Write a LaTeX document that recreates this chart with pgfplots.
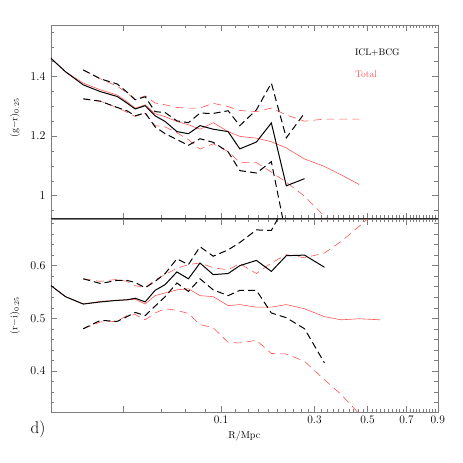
\documentclass[border=0pt]{standalone}
\usepackage{pgfplots}
\usepackage{pgfplotstable}
\pgfplotsset{compat=1.18}

\definecolor{totred}{RGB}{255,85,85}
\definecolor{framegray}{RGB}{125,125,125}

% columns: R [Mpc], ICL+BCG median, upper, lower, Total median, upper, lower
\pgfplotstableread{
R      icl    iclhi  icllo  tot    tothi  totlo
0.0033 1.461  nan    nan    1.461  nan    nan
0.0051 1.416  nan    nan    1.416  nan    nan
0.0082 1.372  1.422  1.325  1.378  1.422  1.325
0.0124 1.349  1.392  1.317  1.355  1.392  1.317
0.0178 1.333  1.375  1.296  1.338  1.368  1.296
0.0217 1.311  1.348  1.285  1.316  1.345  1.280
0.0255 1.291  1.322  1.268  1.294  1.322  1.266
0.0307 1.302  1.332  1.278  1.305  1.335  1.276
0.0366 1.268  1.282  1.231  1.275  1.311  1.235
0.0434 1.249  1.279  1.208  1.265  1.305  1.231
0.0525 1.215  1.251  1.188  1.249  1.296  1.211
0.0628 1.208  1.245  1.169  1.238  1.294  1.188
0.0746 1.235  1.277  1.191  1.223  1.294  1.156
0.0900 1.223  1.276  1.179  1.245  1.310  1.174
0.1101 1.215  1.285  1.147  1.215  1.299  1.148
0.1281 1.157  1.235  1.084  1.199  1.286  1.111
0.1573 1.180  1.288  1.076  1.193  1.282  1.111
0.1876 1.244  1.378  1.114  1.181  1.294  1.079
0.2221 1.033  1.194  0.863  1.160  1.271  1.045
0.2704 1.057  1.277  nan    1.123  1.250  0.998
0.3317 nan    nan    nan    1.098  1.257  0.931
0.3905 nan    nan    nan    1.070  1.257  0.880
0.4635 nan    nan    nan    1.037  1.257  0.830
}\grdata

\pgfplotstableread{
R      icl    iclhi  icllo  tot    tothi  totlo
0.0033 0.562  nan    nan    0.562  nan    nan
0.0051 0.541  nan    nan    0.541  nan    nan
0.0082 0.527  0.575  0.480  0.527  0.575  0.480
0.0124 0.531  0.566  0.496  0.532  0.570  0.493
0.0178 0.534  0.572  0.494  0.534  0.574  0.494
0.0217 0.535  0.572  0.503  0.535  0.570  0.505
0.0255 0.538  0.568  0.511  0.536  0.562  0.507
0.0307 0.531  0.558  0.505  0.527  0.558  0.497
0.0366 0.553  0.570  0.523  0.543  0.573  0.510
0.0434 0.564  0.585  0.541  0.548  0.583  0.518
0.0525 0.588  0.613  0.567  0.554  0.595  0.515
0.0628 0.575  0.602  0.551  0.556  0.602  0.509
0.0746 0.605  0.636  0.575  0.543  0.605  0.488
0.0900 0.583  0.618  0.554  0.541  0.596  0.482
0.1101 0.585  0.630  0.543  0.524  0.592  0.454
0.1281 0.600  0.644  0.553  0.526  0.604  0.453
0.1573 0.610  0.668  0.553  0.521  0.585  0.458
0.1876 0.589  0.667  0.510  0.521  0.605  0.433
0.2221 0.619  0.719  0.501  0.526  0.621  0.432
0.2704 0.620  nan    0.480  0.518  0.615  0.418
0.3317 0.597  nan    0.415  0.503  0.624  0.383
0.3905 nan    nan    nan    0.497  0.646  0.355
0.4635 nan    nan    nan    0.499  0.675  0.318
0.5590 nan    nan    nan    0.497  0.710  0.280
}\ridata

\pgfplotsset{
  panel/.style={
    scale only axis, width=387pt, height=194pt,
    xmin=0.0033, xmax=0.9,
    x coord trafo/.code={\pgfmathparse{(##1)^0.25}},
    x coord inv trafo/.code={\pgfmathparse{(##1)^4}},
    xtick={0.02,0.1,0.3,0.5,0.7,0.9},
    minor xtick={0.04,0.06,0.08,0.12,0.14,0.16,0.18,0.2,0.22,0.24,0.26,0.28,
      0.32,0.34,0.36,0.38,0.4,0.42,0.44,0.46,0.48,0.52,0.54,0.56,0.58,0.6,
      0.62,0.64,0.66,0.68,0.72,0.74,0.76,0.78,0.8,0.82,0.84,0.86,0.88},
    axis line style={framegray},
    every tick/.style={framegray},
    major tick length=6pt, minor tick length=3.5pt,
    tick label style={font=\fontsize{11.5}{13}\selectfont},
    yticklabel style={xshift=-2pt},
    label style={font=\fontsize{10}{12}\selectfont},
    unbounded coords=discard,
  },
  icl/.style={black, line width=1pt},
  icldash/.style={black, line width=1pt, dash pattern=on 7pt off 4pt},
  tot/.style={totred, line width=0.6pt},
  totdash/.style={totred, line width=0.6pt, dash pattern=on 8pt off 5pt},
}

\begin{document}
\begin{tikzpicture}
\useasboundingbox (-51pt,-244.3pt) rectangle (412pt,219pt);

\begin{axis}[panel, name=top, at={(0,0)}, anchor=south west,
    ymin=0.922, ymax=1.573,
    ytick={1,1.2,1.4},
    minor ytick={0.95,1.05,1.1,1.15,1.25,1.3,1.35,1.45,1.5,1.55},
    xticklabels={},
    ylabel={(g$-$r)$_{0.25}$},
    ylabel style={at={(axis description cs:-0.093,0.52)}, anchor=center},
]
\addplot[tot]     table[x=R, y=tot]   {\grdata};
\addplot[totdash] table[x=R, y=tothi] {\grdata};
\addplot[totdash] table[x=R, y=totlo] {\grdata};
\addplot[icl]     table[x=R, y=icl]   {\grdata};
\addplot[icldash] table[x=R, y=iclhi] {\grdata};
\addplot[icldash] table[x=R, y=icllo] {\grdata};
\node[anchor=west, font=\fontsize{9.5}{11}\selectfont] at (axis description cs:0.777,0.856) {ICL+BCG};
\node[anchor=west, text=totred, font=\fontsize{9.5}{11}\selectfont] at (axis description cs:0.777,0.748) {Total};
\end{axis}

\begin{axis}[panel, name=bot, at={(top.south west)}, anchor=north west,
    height=193.4pt,
    ymin=0.3214, ymax=0.689,
    ytick={0.4,0.5,0.6},
    minor ytick={0.34,0.36,0.38,0.42,0.44,0.46,0.48,0.52,0.54,0.56,0.58,0.62,0.64,0.66,0.68},
    xticklabels={,0.1,0.3,0.5,0.7,0.9},
    xlabel={R/Mpc},
    xlabel style={at={(axis description cs:0.5,-0.124)}, anchor=center},
    ylabel={(r$-$i)$_{0.25}$},
    ylabel style={at={(axis description cs:-0.093,0.5)}, anchor=center},
]
\addplot[tot]     table[x=R, y=tot]   {\ridata};
\addplot[totdash] table[x=R, y=tothi] {\ridata};
\addplot[totdash] table[x=R, y=totlo] {\ridata};
\addplot[icl]     table[x=R, y=icl]   {\ridata};
\addplot[icldash] table[x=R, y=iclhi] {\ridata};
\addplot[icldash] table[x=R, y=icllo] {\ridata};
\end{axis}

\draw[black!85, line width=0.8pt] (top.south west) -- (top.south east);
\node[font=\fontsize{17}{19}\selectfont] at ([xshift=-13pt,yshift=-17.3pt]bot.south west) {d)};
\end{tikzpicture}
\end{document}
